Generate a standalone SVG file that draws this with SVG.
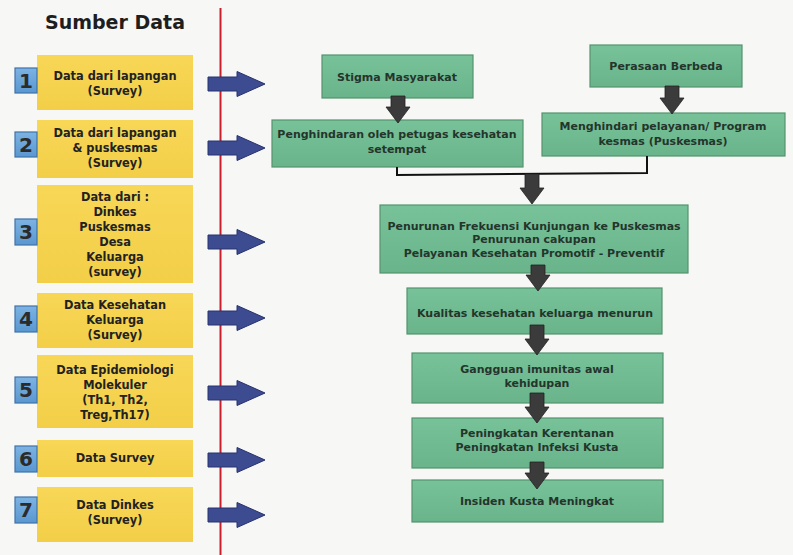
<svg xmlns="http://www.w3.org/2000/svg" width="793" height="555" viewBox="0 0 793 555">
  <defs>
    <linearGradient id="gradYellow" x1="0" y1="0" x2="0" y2="1">
      <stop offset="0" stop-color="#f8d757"/>
      <stop offset="1" stop-color="#f3cf48"/>
    </linearGradient>
    <linearGradient id="gradBlue" x1="0" y1="0" x2="0" y2="1">
      <stop offset="0" stop-color="#7db3e3"/>
      <stop offset="1" stop-color="#5a97d0"/>
    </linearGradient>
    <linearGradient id="gradGreen" x1="0" y1="0" x2="0" y2="1">
      <stop offset="0" stop-color="#78c29a"/>
      <stop offset="1" stop-color="#6ab48c"/>
    </linearGradient>
    <!-- right-pointing block arrow, origin at the tail centre -->
    <path id="blockArrow" d="M0,-7 H29 V-12.5 L57,0 L29,12.5 V7 H0 Z"/>
  </defs>
  <style>
    text { font-family: "DejaVu Sans", Verdana, sans-serif; font-weight: bold; text-anchor: middle; }
    .title { font-size: 19px; fill: #1e1e1e; }
    .src rect.box { fill: url(#gradYellow); }
    .src rect.num { fill: url(#gradBlue); stroke: #3f73a8; stroke-width: 1.2; }
    .src text.lbl { font-size: 11.4px; fill: #222; }
    .src text.n { font-size: 20px; fill: #2b2b2b; }
    .step rect { fill: url(#gradGreen); stroke: #54936f; stroke-width: 1.2; }
    .step text { font-size: 11px; fill: #24352b; }
    .blue { fill: #3d4b91; stroke: #27336e; stroke-width: 1; }
    .down { fill: #3b3b3b; stroke: #222; stroke-width: 0.8; }
    .link { fill: none; stroke: #111; stroke-width: 2; }
    .divider { stroke: #c8212c; stroke-width: 2; }
  </style>

  <rect width="793" height="555" fill="#f7f7f5"/>

  <text class="title" x="115" y="29">Sumber Data</text>
  <line class="divider" x1="220.5" y1="8" x2="220.5" y2="555"/>

  <!-- data sources -->
  <g id="src1" class="src">
    <rect class="box" x="37" y="55" width="156" height="55"/>
    <rect class="num" x="15" y="68" width="22" height="25"/>
    <text class="n" x="26" y="88">1</text>
    <text class="lbl" x="115" y="80">Data dari lapangan</text>
    <text class="lbl" x="115" y="95">(Survey)</text>
  </g>
  <g id="src2" class="src">
    <rect class="box" x="37" y="120" width="156" height="58"/>
    <rect class="num" x="15" y="132" width="22" height="25"/>
    <text class="n" x="26" y="152">2</text>
    <text class="lbl" x="115" y="137">Data dari lapangan</text>
    <text class="lbl" x="115" y="152">&amp; puskesmas</text>
    <text class="lbl" x="115" y="167">(Survey)</text>
  </g>
  <g id="src3" class="src">
    <rect class="box" x="37" y="185" width="156" height="98"/>
    <rect class="num" x="15" y="219" width="22" height="26"/>
    <text class="n" x="26" y="239">3</text>
    <text class="lbl" x="115" y="201">Data dari :</text>
    <text class="lbl" x="115" y="216">Dinkes</text>
    <text class="lbl" x="115" y="231">Puskesmas</text>
    <text class="lbl" x="115" y="246">Desa</text>
    <text class="lbl" x="115" y="261">Keluarga</text>
    <text class="lbl" x="115" y="276">(survey)</text>
  </g>
  <g id="src4" class="src">
    <rect class="box" x="37" y="293" width="156" height="55"/>
    <rect class="num" x="15" y="306" width="22" height="26"/>
    <text class="n" x="26" y="326">4</text>
    <text class="lbl" x="115" y="309">Data Kesehatan</text>
    <text class="lbl" x="115" y="324">Keluarga</text>
    <text class="lbl" x="115" y="339">(Survey)</text>
  </g>
  <g id="src5" class="src">
    <rect class="box" x="37" y="355" width="156" height="73"/>
    <rect class="num" x="15" y="377" width="22" height="26"/>
    <text class="n" x="26" y="397">5</text>
    <text class="lbl" x="115" y="374">Data Epidemiologi</text>
    <text class="lbl" x="115" y="389">Molekuler</text>
    <text class="lbl" x="115" y="404">(Th1, Th2,</text>
    <text class="lbl" x="115" y="419">Treg,Th17)</text>
  </g>
  <g id="src6" class="src">
    <rect class="box" x="37" y="440" width="156" height="37"/>
    <rect class="num" x="15" y="446" width="22" height="26"/>
    <text class="n" x="26" y="466">6</text>
    <text class="lbl" x="115" y="462">Data Survey</text>
  </g>
  <g id="src7" class="src">
    <rect class="box" x="37" y="487" width="156" height="55"/>
    <rect class="num" x="15" y="497" width="22" height="26"/>
    <text class="n" x="26" y="517">7</text>
    <text class="lbl" x="115" y="509">Data Dinkes</text>
    <text class="lbl" x="115" y="524">(Survey)</text>
  </g>

  <!-- causal chain -->
  <g id="stigma" class="step">
    <rect x="322" y="55" width="151" height="43"/>
    <text x="397" y="81">Stigma Masyarakat</text>
  </g>
  <g id="perasaan" class="step">
    <rect x="590" y="45" width="152" height="42"/>
    <text x="666" y="70">Perasaan Berbeda</text>
  </g>
  <g id="penghindaran" class="step">
    <rect x="272" y="120" width="251" height="47"/>
    <text x="397" y="138">Penghindaran oleh petugas kesehatan</text>
    <text x="397" y="153">setempat</text>
  </g>
  <g id="menghindari" class="step">
    <rect x="542" y="113" width="243" height="43"/>
    <text x="663" y="130">Menghindari pelayanan/ Program</text>
    <text x="663" y="145">kesmas (Puskesmas)</text>
  </g>
  <g id="penurunan" class="step">
    <rect x="380" y="205" width="308" height="68"/>
    <text x="534" y="230">Penurunan Frekuensi Kunjungan ke Puskesmas</text>
    <text x="534" y="243">Penurunan cakupan</text>
    <text x="534" y="257">Pelayanan Kesehatan Promotif - Preventif</text>
  </g>
  <g id="kualitas" class="step">
    <rect x="407" y="288" width="255" height="46"/>
    <text x="535" y="317">Kualitas kesehatan keluarga menurun</text>
  </g>
  <g id="gangguan" class="step">
    <rect x="412" y="353" width="251" height="50"/>
    <text x="537" y="373">Gangguan imunitas awal</text>
    <text x="537" y="387">kehidupan</text>
  </g>
  <g id="peningkatan" class="step">
    <rect x="412" y="418" width="251" height="50"/>
    <text x="537" y="437">Peningkatan Kerentanan</text>
    <text x="537" y="451">Peningkatan Infeksi Kusta</text>
  </g>
  <g id="insiden" class="step">
    <rect x="412" y="480" width="251" height="42"/>
    <text x="537" y="505">Insiden Kusta Meningkat</text>
  </g>

  <g id="connectors">
    <!-- source arrows crossing the divider -->
    <use href="#blockArrow" class="blue" x="208" y="84"/>
    <use href="#blockArrow" class="blue" x="208" y="148"/>
    <use href="#blockArrow" class="blue" x="208" y="242"/>
    <use href="#blockArrow" class="blue" x="208" y="318"/>
    <use href="#blockArrow" class="blue" x="208" y="393"/>
    <use href="#blockArrow" class="blue" x="208" y="460"/>
    <use href="#blockArrow" class="blue" x="208" y="515"/>

    <!-- joining line under the two avoidance boxes -->
    <polyline class="link" points="397,167 397,175 647,173 647,156"/>

    <!-- downward block arrows -->
    <path class="down" d="M391,96 H405 V107 H410 L398,123 L386,107 H391 Z"/>
    <path class="down" d="M665,86 H679 V98 H684 L672,114 L660,98 H665 Z"/>
    <path class="down" d="M525,174 H539 V188 H544 L532,204 L520,188 H525 Z"/>
    <path class="down" d="M531,265 H545 V275 H550 L538,291 L526,275 H531 Z"/>
    <path class="down" d="M530,325 H544 V339 H549 L537,355 L525,339 H530 Z"/>
    <path class="down" d="M530,393 H544 V407 H549 L537,423 L525,407 H530 Z"/>
    <path class="down" d="M530,462 H544 V473 H549 L537,489 L525,473 H530 Z"/>
  </g>
</svg>
